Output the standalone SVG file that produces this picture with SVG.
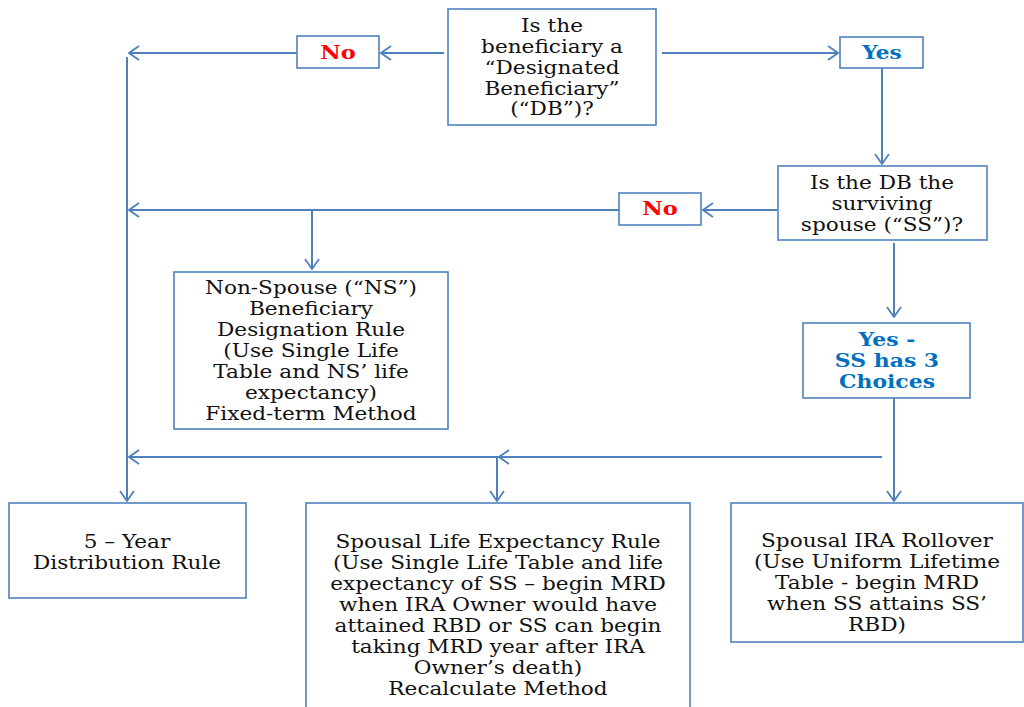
<svg xmlns="http://www.w3.org/2000/svg" width="1024" height="707" viewBox="0 0 1024 707">
<defs>
<marker id="arr" viewBox="0 0 12 16" refX="11" refY="8" markerWidth="12" markerHeight="16" markerUnits="userSpaceOnUse" orient="auto">
<polyline points="1,1 11,8 1,15" fill="none" stroke="#4F81BD" stroke-width="1.8"/>
</marker>
</defs>
<style>
.box{fill:#fff;stroke:#4F81BD;stroke-width:1.6}
.ln{fill:none;stroke:#4F81BD;stroke-width:2}
.t{font-family:"DejaVu Serif","Liberation Serif",serif;font-size:18px;fill:#111;text-anchor:middle}
.b{font-weight:bold}
.red{fill:#FF0000}
.blue{fill:#0070C0}
</style>
<rect width="1024" height="707" fill="#fff"/>
<g id="connectors">
<line class="ln" x1="444" y1="53" x2="381" y2="53" marker-end="url(#arr)"/>
<line class="ln" x1="297" y1="53" x2="129" y2="53" marker-end="url(#arr)"/>
<line class="ln" x1="662" y1="53" x2="838" y2="53" marker-end="url(#arr)"/>
<line class="ln" x1="882" y1="68" x2="882" y2="164" marker-end="url(#arr)"/>
<line class="ln" x1="777" y1="210" x2="703" y2="210" marker-end="url(#arr)"/>
<line class="ln" x1="619" y1="210" x2="129" y2="210" marker-end="url(#arr)"/>
<line class="ln" x1="312" y1="210" x2="312" y2="269" marker-end="url(#arr)"/>
<line class="ln" x1="894" y1="243" x2="894" y2="317" marker-end="url(#arr)"/>
<line class="ln" x1="894" y1="398" x2="894" y2="501" marker-end="url(#arr)"/>
<line class="ln" x1="882" y1="457" x2="499" y2="457" marker-end="url(#arr)"/>
<line class="ln" x1="499" y1="457" x2="129" y2="457" marker-end="url(#arr)"/>
<line class="ln" x1="497" y1="457" x2="497" y2="501" marker-end="url(#arr)"/>
<line class="ln" x1="127" y1="57" x2="127" y2="501" marker-end="url(#arr)"/>
</g>
<g id="q1">
<rect class="box" x="448" y="9" width="208" height="116"/>
<text class="t" transform="translate(552 0) scale(1.2 1)"><tspan x="0" y="32">Is the</tspan><tspan x="0" y="53">beneficiary a</tspan><tspan x="0" y="74">“Designated</tspan><tspan x="0" y="95">Beneficiary”</tspan><tspan x="0" y="115">(“DB”)?</tspan></text>
</g>
<g id="no1">
<rect class="box" x="297" y="36" width="82" height="32"/>
<text class="t b red" transform="translate(338 0) scale(1.25 1)" x="0" y="59">No</text>
</g>
<g id="yes1">
<rect class="box" x="840" y="37" width="83" height="31"/>
<text class="t b blue" transform="translate(882 0) scale(1.2 1)" x="0" y="59">Yes</text>
</g>
<g id="q2">
<rect class="box" x="778" y="166" width="209" height="74"/>
<text class="t" transform="translate(882 0) scale(1.2 1)"><tspan x="0" y="189">Is the DB the</tspan><tspan x="0" y="210">surviving</tspan><tspan x="0" y="231">spouse (“SS”)?</tspan></text>
</g>
<g id="no2">
<rect class="box" x="619" y="193" width="82" height="32"/>
<text class="t b red" transform="translate(660 0) scale(1.25 1)" x="0" y="215">No</text>
</g>
<g id="yes2">
<rect class="box" x="803" y="323" width="167" height="75"/>
<text class="t b blue" transform="translate(887 0) scale(1.22 1)"><tspan x="0" y="346">Yes -</tspan><tspan x="0" y="367">SS has 3</tspan><tspan x="0" y="388">Choices</tspan></text>
</g>
<g id="ns">
<rect class="box" x="174" y="272" width="274" height="157"/>
<text class="t" transform="translate(311 0) scale(1.2 1)"><tspan x="0" y="294">Non-Spouse (“NS”)</tspan><tspan x="0" y="315">Beneficiary</tspan><tspan x="0" y="336">Designation Rule</tspan><tspan x="0" y="357">(Use Single Life</tspan><tspan x="0" y="378">Table and NS’ life</tspan><tspan x="0" y="399">expectancy)</tspan><tspan x="0" y="420">Fixed-term Method</tspan></text>
</g>
<g id="five">
<rect class="box" x="9" y="503" width="237" height="95"/>
<text class="t" transform="translate(127 0) scale(1.2 1)"><tspan x="0" y="548">5 – Year</tspan><tspan x="0" y="569">Distribution Rule</tspan></text>
</g>
<g id="sle">
<rect class="box" x="306" y="503" width="384" height="215"/>
<text class="t" transform="translate(498 0) scale(1.2 1)"><tspan x="0" y="548">Spousal Life Expectancy Rule</tspan><tspan x="0" y="569">(Use Single Life Table and life</tspan><tspan x="0" y="590">expectancy of SS – begin MRD</tspan><tspan x="0" y="611">when IRA Owner would have</tspan><tspan x="0" y="632">attained RBD or SS can begin</tspan><tspan x="0" y="653">taking MRD year after IRA</tspan><tspan x="0" y="674">Owner’s death)</tspan><tspan x="0" y="695">Recalculate Method</tspan></text>
</g>
<g id="ira">
<rect class="box" x="731" y="503" width="292" height="139"/>
<text class="t" transform="translate(877 0) scale(1.2 1)"><tspan x="0" y="547">Spousal IRA Rollover</tspan><tspan x="0" y="568">(Use Uniform Lifetime</tspan><tspan x="0" y="589">Table - begin MRD</tspan><tspan x="0" y="610">when SS attains SS’</tspan><tspan x="0" y="631">RBD)</tspan></text>
</g>
</svg>
